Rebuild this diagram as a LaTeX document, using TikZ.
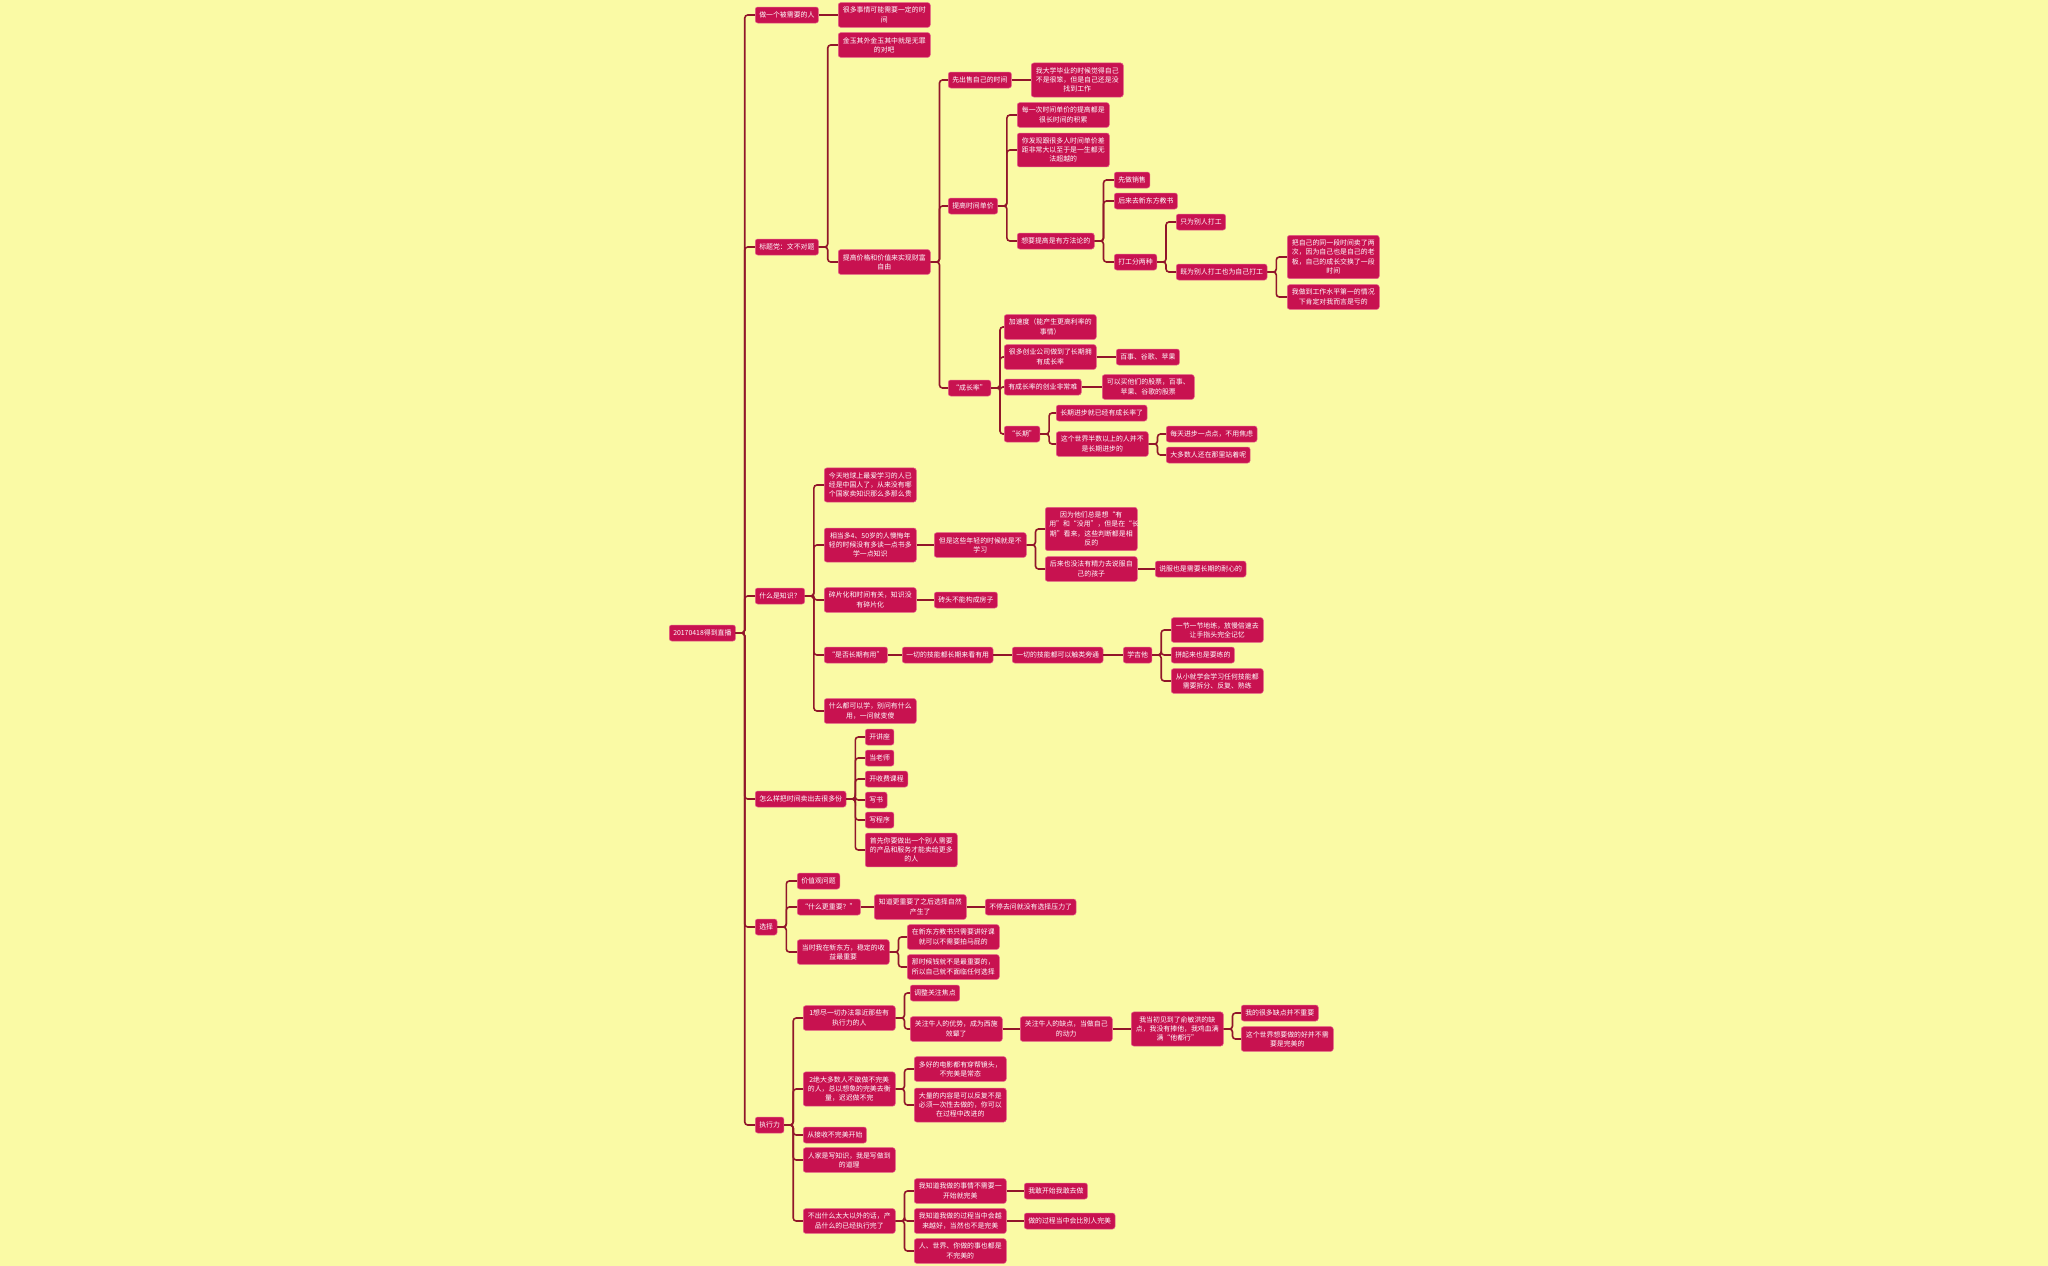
\documentclass[tikz,border=0pt]{standalone}
\usepackage{fontspec}
\setmainfont{Noto Sans CJK SC}
\definecolor{beijing}{RGB}{250,250,165}
\definecolor{hong}{RGB}{200,18,80}
\definecolor{hongbian}{RGB}{228,96,136}
\definecolor{xian}{RGB}{145,22,42}
\tikzset{
  kuai/.style={fill=hong,draw=hongbian,line width=0.5pt,rounded corners=2.5pt,text=white,
    inner xsep=4pt,inner ysep=4.5pt,anchor=west,font=\fontsize{6.9}{9.3}\selectfont},
  dan/.style={kuai,minimum height=16pt},
  duo/.style={kuai,text width=84pt,align=center},
  lian/.style={draw=xian,line width=1.6pt,rounded corners=3pt},
}

\begin{document}
\begin{tikzpicture}[x=1pt,y=-1pt]
  \fill[beijing] (0,0) rectangle (2048,1266);
  \node[dan] (r) at (669,633) {20170418得到直播};
  \node[dan] (a1) at (755,15) {做一个被需要的人};
  \node[dan] (a2) at (755,247) {标题党：文不对题};
  \node[dan] (a3) at (755,596) {什么是知识？};
  \node[dan] (a4) at (755,799) {怎么样把时间卖出去很多份};
  \node[dan] (a5) at (755,927) {选择};
  \node[dan] (a6) at (755,1125) {执行力};

  \node[duo] (b11) at (838,15) {很多事情可能需要一定的时\\间};
  \node[duo] (b21) at (838,45) {金玉其外金玉其中就是无罪\\的对吧};
  \node[duo] (b22) at (838,262) {提高价格和价值来实现财富\\自由};

  \node[dan] (c1) at (948,80) {先出售自己的时间};
  \node[dan] (c2) at (948,206) {提高时间单价};
  \node[dan] (c3) at (948,388) {“成长率”};
  \node[duo] (c11) at (1031,80) {我大学毕业的时候觉得自己\\不是很笨，但是自己还是没\\找到工作};

  \node[duo] (d1) at (1017,115) {每一次时间单价的提高都是\\很长时间的积累};
  \node[duo] (d2) at (1017,150) {你发现跟很多人时间单价差\\距非常大以至于是一生都无\\法超越的};
  \node[dan] (d3) at (1017,241) {想要提高是有方法论的};
  \node[dan] (e1) at (1114,180) {先做销售};
  \node[dan] (e2) at (1114,201) {后来去新东方教书};
  \node[dan] (e3) at (1114,262) {打工分两种};
  \node[dan] (f1) at (1176,222) {只为别人打工};
  \node[dan] (f2) at (1176,272) {既为别人打工也为自己打工};
  \node[duo] (g1) at (1287,257) {把自己的同一段时间卖了两\\次，因为自己也是自己的老\\板，自己的成长交换了一段\\时间};
  \node[duo] (g2) at (1287,297) {我做到工作水平第一的情况\\下肯定对我而言是亏的};

  \node[duo] (h1) at (1004,327) {加速度（能产生更高利率的\\事情）};
  \node[duo] (h2) at (1004,357) {很多创业公司做到了长期拥\\有成长率};
  \node[dan] (h3) at (1004,387) {有成长率的创业非常难};
  \node[dan] (h4) at (1004,434) {“长期”};
  \node[dan] (h21) at (1116,357) {百事、谷歌、苹果};
  \node[duo] (h31) at (1102,387) {可以买他们的股票，百事、\\苹果、谷歌的股票};
  \node[dan] (i1) at (1056,413) {长期进步就已经有成长率了};
  \node[duo] (i2) at (1056,444) {这个世界半数以上的人并不\\是长期进步的};
  \node[dan] (j1) at (1166,434) {每天进步一点点，不用焦虑};
  \node[dan] (j2) at (1166,455) {大多数人还在那里站着呢};

  \node[duo] (k1) at (824,485) {今天地球上最爱学习的人已\\经是中国人了，从来没有哪\\个国家卖知识那么多那么贵};
  \node[duo] (k2) at (824,545) {相当多4、50岁的人懊悔年\\轻的时候没有多读一点书多\\学一点知识};
  \node[duo] (k3) at (824,600) {碎片化和时间有关，知识没\\有碎片化};
  \node[dan] (k4) at (824,655) {“是否长期有用”};
  \node[duo] (k5) at (824,711) {什么都可以学，别问有什么\\用，一问就变傻};
  \node[duo] (l1) at (934,545) {但是这些年轻的时候就是不\\学习};
  \node[duo] (m1) at (1045,529) {因为他们总是想“有\\用”和“没用”，但是在“长\\期”看来，这些判断都是相\\反的};
  \node[duo] (m2) at (1045,569) {后来也没法有精力去说服自\\己的孩子};
  \node[dan] (m21) at (1155,569) {说服也是需要长期的耐心的};
  \node[dan] (k31) at (934,600) {砖头不能构成房子};
  \node[dan] (n1) at (902,655) {一切的技能都长期来看有用};
  \node[dan] (n2) at (1012,655) {一切的技能都可以触类旁通};
  \node[dan] (n3) at (1123,655) {学吉他};
  \node[duo] (o1) at (1171,630) {一节一节地练，放慢倍速去\\让手指头完全记忆};
  \node[dan] (o2) at (1171,655) {拼起来也是要练的};
  \node[duo] (o3) at (1171,681) {从小就学会学习任何技能都\\需要拆分、反复、熟练};

  \node[dan] (p1) at (865,737) {开讲座};
  \node[dan] (p2) at (865,758) {当老师};
  \node[dan] (p3) at (865,779) {开收费课程};
  \node[dan] (p4) at (865,800) {写书};
  \node[dan] (p5) at (865,820) {写程序};
  \node[duo] (p6) at (865,850) {首先你要做出一个别人需要\\的产品和服务才能卖给更多\\的人};

  \node[dan] (q1) at (797,881) {价值观问题};
  \node[dan] (q2) at (797,907) {“什么更重要？”};
  \node[duo] (q3) at (797,952) {当时我在新东方，稳定的收\\益最重要};
  \node[duo] (q21) at (874,907) {知道更重要了之后选择自然\\产生了};
  \node[dan] (q22) at (985,907) {不停去问就没有选择压力了};
  \node[duo] (q31) at (907,937) {在新东方教书只需要讲好课\\就可以不需要拍马屁的};
  \node[duo] (q32) at (907,967) {那时候钱就不是最重要的，\\所以自己就不面临任何选择};

  \node[duo] (s1) at (803,1018) {1想尽一切办法靠近那些有\\执行力的人};
  \node[duo] (s2) at (803,1089) {2绝大多数人不敢做不完美\\的人，总以想象的完美去衡\\量，迟迟做不完};
  \node[dan] (s3) at (803,1135) {从接收不完美开始};
  \node[duo] (s4) at (803,1160) {人家是写知识，我是写做到\\的道理};
  \node[duo] (s5) at (803,1221) {不出什么太大以外的话，产\\品什么的已经执行完了};
  \node[dan] (t1) at (910,993) {调整关注焦点};
  \node[duo] (t2) at (910,1029) {关注牛人的优势，成为西施\\效颦了};
  \node[duo] (t3) at (1020,1029) {关注牛人的缺点，当做自己\\的动力};
  \node[duo] (t4) at (1131,1029) {我当初见到了俞敏洪的缺\\点，我没有捧他，我鸡血满\\满“他都行”};
  \node[dan] (u1) at (1241,1013) {我的很多缺点并不重要};
  \node[duo] (u2) at (1241,1039) {这个世界想要做的好并不需\\要是完美的};
  \node[duo] (v1) at (914,1069) {多好的电影都有穿帮镜头，\\不完美是常态};
  \node[duo] (v2) at (914,1105) {大量的内容是可以反复不是\\必须一次性去做的，你可以\\在过程中改进的};
  \node[duo] (w1) at (914,1191) {我知道我做的事情不需要一\\开始就完美};
  \node[duo] (w2) at (914,1221) {我知道我做的过程当中会越\\来越好，当然也不是完美};
  \node[duo] (w3) at (914,1251) {人、世界、你做的事也都是\\不完美的};
  \node[dan] (w11) at (1024,1191) {我敢开始我敢去做};
  \node[dan] (w21) at (1024,1221) {做的过程当中会比别人完美};

  \foreach \k in {a1,a2,a3,a4,a5,a6} \draw[lian] (r.east) -- ++(9,0) |- (\k.west);
  \draw[lian] (a1.east) -- (b11.west);
  \foreach \k in {b21,b22} \draw[lian] (a2.east) -- ++(9,0) |- (\k.west);
  \foreach \k in {c1,c2,c3} \draw[lian] (b22.east) -- ++(9,0) |- (\k.west);
  \draw[lian] (c1.east) -- (c11.west);
  \foreach \k in {d1,d2,d3} \draw[lian] (c2.east) -- ++(9,0) |- (\k.west);
  \foreach \k in {e1,e2,e3} \draw[lian] (d3.east) -- ++(9,0) |- (\k.west);
  \foreach \k in {f1,f2} \draw[lian] (e3.east) -- ++(9,0) |- (\k.west);
  \foreach \k in {g1,g2} \draw[lian] (f2.east) -- ++(9,0) |- (\k.west);
  \foreach \k in {h1,h2,h3,h4} \draw[lian] (c3.east) -- ++(9,0) |- (\k.west);
  \draw[lian] (h2.east) -- (h21.west);
  \draw[lian] (h3.east) -- (h31.west);
  \foreach \k in {i1,i2} \draw[lian] (h4.east) -- ++(9,0) |- (\k.west);
  \foreach \k in {j1,j2} \draw[lian] (i2.east) -- ++(9,0) |- (\k.west);
  \foreach \k in {k1,k2,k3,k4,k5} \draw[lian] (a3.east) -- ++(9,0) |- (\k.west);
  \draw[lian] (k2.east) -- (l1.west);
  \foreach \k in {m1,m2} \draw[lian] (l1.east) -- ++(9,0) |- (\k.west);
  \draw[lian] (m2.east) -- (m21.west);
  \draw[lian] (k3.east) -- (k31.west);
  \draw[lian] (k4.east) -- (n1.west);
  \draw[lian] (n1.east) -- (n2.west);
  \draw[lian] (n2.east) -- (n3.west);
  \foreach \k in {o1,o2,o3} \draw[lian] (n3.east) -- ++(9,0) |- (\k.west);
  \foreach \k in {p1,p2,p3,p4,p5,p6} \draw[lian] (a4.east) -- ++(9,0) |- (\k.west);
  \foreach \k in {q1,q2,q3} \draw[lian] (a5.east) -- ++(9,0) |- (\k.west);
  \draw[lian] (q2.east) -- (q21.west);
  \draw[lian] (q21.east) -- (q22.west);
  \foreach \k in {q31,q32} \draw[lian] (q3.east) -- ++(9,0) |- (\k.west);
  \foreach \k in {s1,s2,s3,s4,s5} \draw[lian] (a6.east) -- ++(9,0) |- (\k.west);
  \foreach \k in {t1,t2} \draw[lian] (s1.east) -- ++(9,0) |- (\k.west);
  \draw[lian] (t2.east) -- (t3.west);
  \draw[lian] (t3.east) -- (t4.west);
  \foreach \k in {u1,u2} \draw[lian] (t4.east) -- ++(9,0) |- (\k.west);
  \foreach \k in {v1,v2} \draw[lian] (s2.east) -- ++(9,0) |- (\k.west);
  \foreach \k in {w1,w2,w3} \draw[lian] (s5.east) -- ++(9,0) |- (\k.west);
  \draw[lian] (w1.east) -- (w11.west);
  \draw[lian] (w2.east) -- (w21.west);
\end{tikzpicture}
\end{document}
